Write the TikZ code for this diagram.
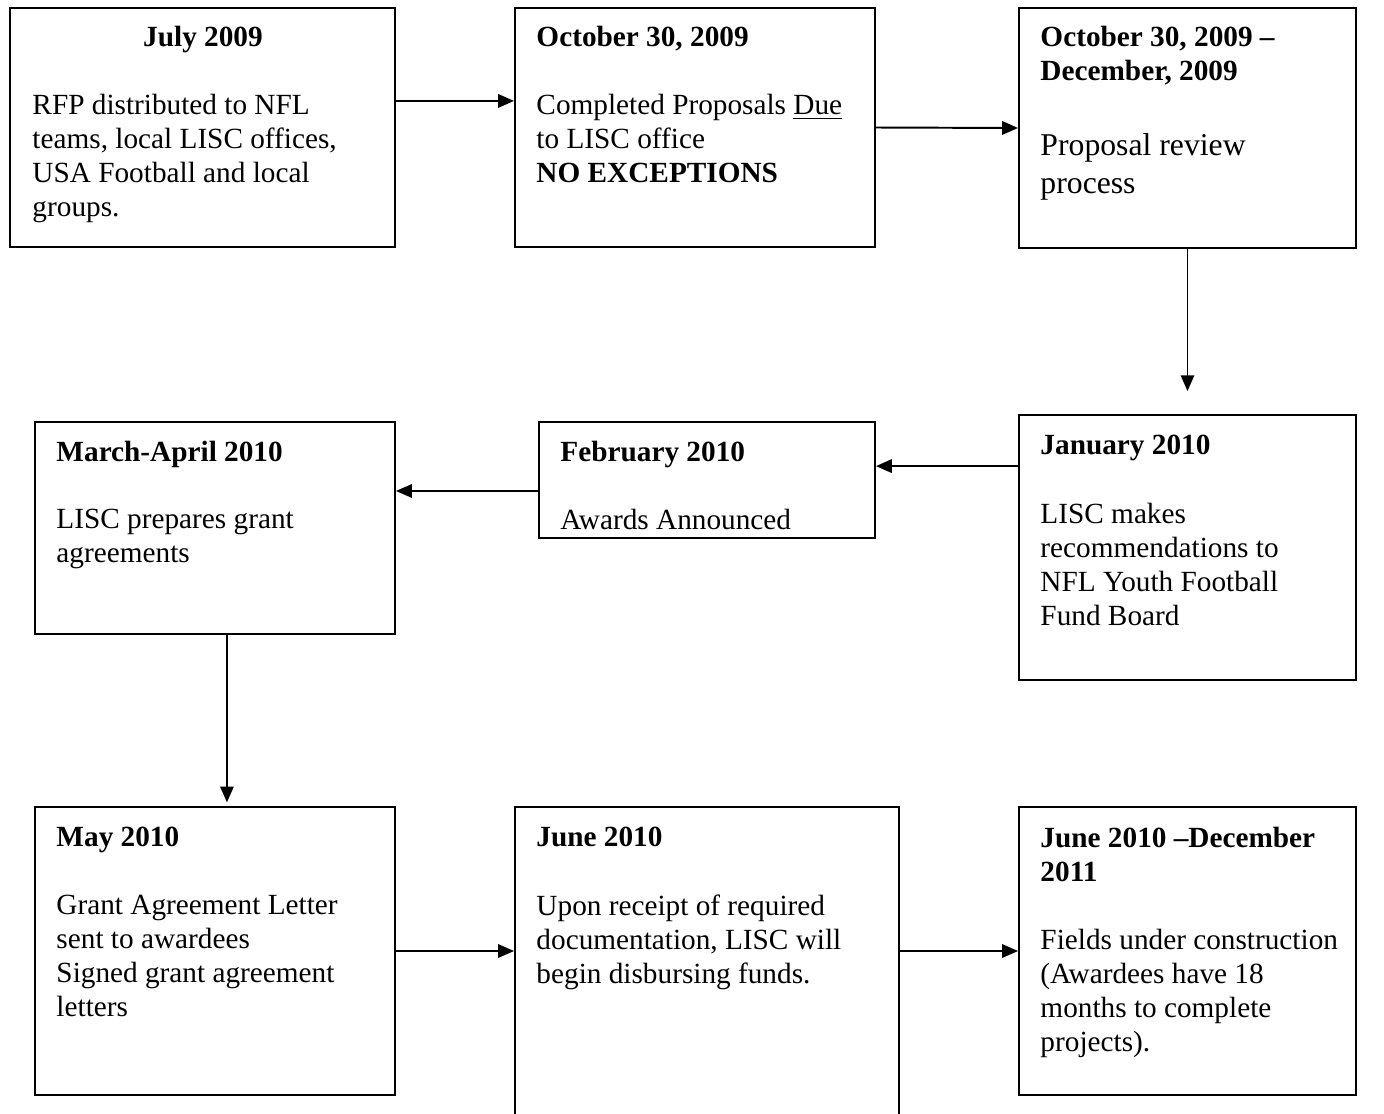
\documentclass[tikz,border=0pt]{standalone}
\usepackage{fontspec}
\setmainfont{Liberation Serif}
\usetikzlibrary{arrows.meta,fit}
\begin{document}
\begin{tikzpicture}[x=0.41pt,y=-0.41pt,
  stage/.style={draw,line width=0.8pt,inner sep=0pt},
  datetext/.style={anchor=north west,inner sep=0pt,align=left,font=\fontsize{12}{13.94}\selectfont\bfseries},
  tasktext/.style={anchor=north west,inner sep=0pt,align=left,font=\fontsize{12}{13.94}\selectfont},
  flow/.style={line width=0.8pt,-{Triangle[length=6.5pt,width=5.5pt]}}]
\useasboundingbox (0,0) rectangle (1384,1114);

\node[stage,fit={(10,8) (395,247)}] (jul) {};
\node[stage,fit={(515,8) (875,247)}] (oct) {};
\node[stage,fit={(1019,8) (1356,248)}] (rev) {};
\node[stage,fit={(1019,415) (1356,680)}] (jan) {};
\node[stage,fit={(539,422) (875,538)}] (feb) {};
\node[stage,fit={(35,422) (395,634)}] (mar) {};
\node[stage,fit={(35,807) (395,1095)}] (may) {};
\node[stage,fit={(515,807) (899,1130)}] (jun) {};
\node[stage,fit={(1019,807) (1356,1095)}] (fld) {};

\node[datetext,anchor=north] (julD) at (203,26) {July 2009};
\node[tasktext] (julT) at (32,94) {RFP distributed to NFL\\teams, local LISC offices,\\USA Football and local\\groups.};

\node[datetext] (octD) at (536,26) {October 30, 2009};
\node[tasktext] (octT) at (536,94) {Completed Proposals \underline{Due}\\to LISC office\\\textbf{NO EXCEPTIONS}};

\node[datetext] (revD) at (1040,26) {October 30, 2009 –\\December, 2009};
\node[tasktext,font=\fontsize{13}{15.4}\selectfont] (revT) at (1040,133) {Proposal review\\process};

\node[datetext] (janD) at (1040,435) {January 2010};
\node[tasktext] (janT) at (1040,503) {LISC makes\\recommendations to\\NFL Youth Football\\Fund Board};

\node[datetext] (febD) at (560,441) {February 2010};
\node[tasktext] (febT) at (560,509) {Awards Announced};

\node[datetext] (marD) at (56,441) {March-April 2010};
\node[tasktext] (marT) at (56,509) {LISC prepares grant\\agreements};

\node[datetext] (mayD) at (56,827) {May 2010};
\node[tasktext] (mayT) at (56,895) {Grant Agreement Letter\\sent to awardees\\Signed grant agreement\\letters};

\node[datetext] (junD) at (536,827) {June 2010};
\node[tasktext] (junT) at (536,894) {Upon receipt of required\\documentation, LISC will\\begin disbursing funds.};

\node[datetext] (fldD) at (1040,827) {June 2010 –December\\2011};
\node[tasktext] (fldT) at (1040,929) {Fields under construction\\(Awardees have 18\\months to complete\\projects).};

\coordinate (janfeb) at ([yshift=5.7pt]feb.east);
\coordinate (febmar) at ([yshift=-4.5pt]feb.west);
\coordinate (marmay) at ([xshift=4.9pt]mar.south);

\draw[flow] ([yshift=10.9pt]jul.east) -- ([yshift=10.9pt]oct.west);
\draw[flow] (oct.east) -- (rev.west);
\draw[flow] (rev.south) -- ([yshift=9.4pt]jan.north);
\draw[flow] (jan.west |- janfeb) -- (janfeb);
\draw[flow] (febmar) -- (febmar -| mar.east);
\draw[flow,shorten >=1.5pt] (marmay) -- (marmay |- may.north);
\draw[flow] (may.east) -- (may.east -| jun.west);
\draw[flow] (jun.east |- fld.west) -- (fld.west);
\end{tikzpicture}
\end{document}
